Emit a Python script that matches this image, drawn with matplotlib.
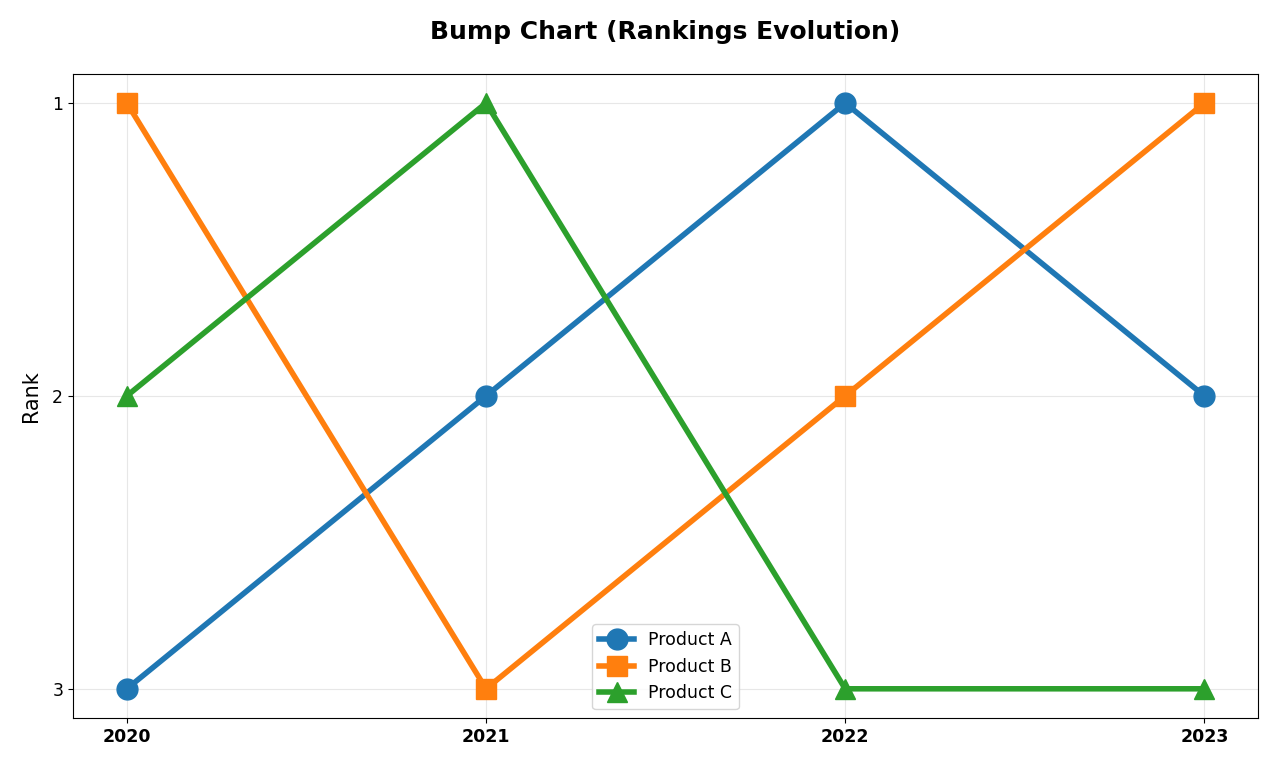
import matplotlib
matplotlib.use("Agg")
import matplotlib.pyplot as plt

years = ["2020", "2021", "2022", "2023"]
rank_a = [3, 2, 1, 2]
rank_b = [1, 3, 2, 1]
rank_c = [2, 1, 3, 3]
names = ["Product A", "Product B", "Product C"]
colors = ["#1f77b4", "#ff7f0e", "#2ca02c"]
markers = ["o", "s", "^"]

fig, ax = plt.subplots(figsize=(12.8, 7.68), dpi=100)
x = list(range(len(years)))
for name, ranks, c, m in zip(names, [rank_a, rank_b, rank_c], colors, markers):
    ax.plot(x, ranks, marker=m, color=c, linewidth=4, markersize=15, label=name)

ax.set_xticks(x)
ax.set_xticklabels(years, fontsize=12.5, fontweight="bold")
ax.set_yticks([1, 2, 3])
ax.tick_params(axis="y", labelsize=12.5)
ax.invert_yaxis()
ax.set_ylabel("Rank", fontsize=15, labelpad=8)
ax.set_title("Bump Chart (Rankings Evolution)", fontsize=18, fontweight="bold", pad=25)
ax.grid(True, alpha=0.3)
ax.legend(loc="lower center", fontsize=12.5)
fig.subplots_adjust(left=0.057, right=0.983, top=0.904, bottom=0.065)
fig.savefig("out.png", dpi=100)
